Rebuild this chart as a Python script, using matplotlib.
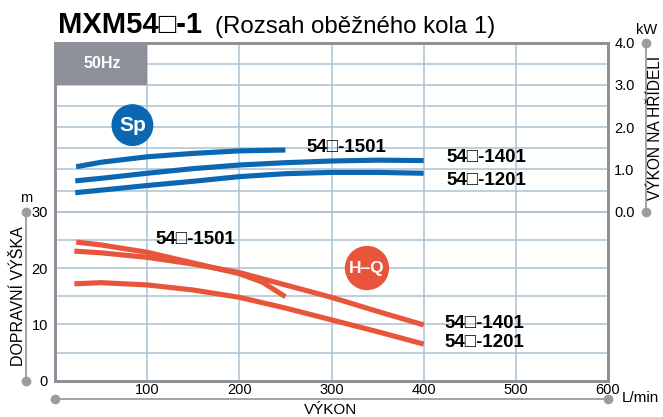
import matplotlib
matplotlib.use('Agg')
import matplotlib.pyplot as plt
import matplotlib.transforms as mtransforms
from matplotlib.patches import Rectangle

plt.rcParams['font.family'] = ['Liberation Sans', 'DejaVu Sans']

# ---- data ----
# H-Q curves (left axis, m)
q_hq_1501 = [23, 50, 100, 150, 200, 225, 250]
h_1501 = [24.6, 24.1, 22.8, 20.9, 19.0, 17.5, 14.9]
q_hq_1401 = [21, 50, 100, 150, 200, 250, 300, 350, 400]
h_1401 = [23.0, 22.7, 21.9, 20.7, 19.2, 17.0, 14.8, 12.3, 9.9]
q_hq_1201 = [21, 50, 100, 150, 200, 250, 300, 350, 400]
h_1201 = [17.2, 17.4, 17.0, 16.1, 14.8, 12.9, 10.8, 8.7, 6.5]

# Shaft power curves (right axis, kW)
q_sp_1501 = [23, 50, 100, 150, 200, 250]
p_1501 = [1.065, 1.17, 1.30, 1.38, 1.44, 1.46]
q_sp_1401 = [22, 50, 100, 150, 200, 250, 300, 350, 400]
p_1401 = [0.73, 0.79, 0.91, 1.02, 1.105, 1.16, 1.20, 1.22, 1.21]
q_sp_1201 = [22, 50, 100, 150, 200, 250, 300, 350, 400]
p_1201 = [0.45, 0.51, 0.62, 0.72, 0.83, 0.90, 0.93, 0.93, 0.91]

x_ticks = [100, 200, 300, 400, 500, 600]
h_ticks = [0, 10, 20, 30]
h_minor = [5, 15, 25]
p_ticks = [0.0, 1.0, 2.0, 3.0, 4.0]
p_minor = [0.5, 1.5, 2.5, 3.5]
p_tick_labels = ['0.0', '1.0', '2.0', '3.0', '4.0']

RED = '#e8553a'
BLUE = '#0b67b2'
GRID = '#a9c2d2'
SPINE = '#8e9197'
BOX = '#8e9099'
DECO = '#9a9ca2'
W, H = 663, 417

fig = plt.figure(figsize=(W / 100, H / 100), dpi=100)
ax = fig.add_axes([55 / W, (H - 380.7) / H, (608 - 55) / W, (380.7 - 42.7) / H])
ax.set_xlim(0, 600)
ax.set_ylim(0, 60)
ax2 = ax.twinx()
ax2.set_ylim(-4, 4)

ax.set_xticks(x_ticks)
ax.set_xticklabels([str(v) for v in x_ticks])
ax.set_yticks(h_ticks)
ax.set_yticks(h_minor, minor=True)
ax.set_yticklabels([str(v) for v in h_ticks])
ax.grid(which='both', color=GRID, lw=1.1)
ax.tick_params(which='both', length=0)
ax.tick_params(axis='y', pad=5, labelsize=10.5)
ax.tick_params(axis='x', pad=1.5, labelsize=10.5)

ax2.set_yticks(p_ticks)
ax2.set_yticklabels(p_tick_labels)
ax2.set_yticks(p_minor, minor=True)
ax2.grid(which='both', axis='y', color=GRID, lw=1.1)
ax2.tick_params(which='both', length=0, pad=4.5, labelsize=10.5)

for a in (ax, ax2):
    for s in a.spines.values():
        s.set_color(SPINE)
        s.set_linewidth(2)

# 50Hz box
ax2.add_patch(Rectangle((0, 3.0), 100, 1.0, facecolor=BOX, edgecolor='none', zorder=2))
ax2.text(51, 3.5, '50Hz', color='white', fontweight='bold', fontsize=11.5,
         ha='center', va='center', zorder=3)

# curves
lw = 3.7
ax.plot(q_hq_1501, h_1501, color=RED, lw=lw, solid_capstyle='butt', zorder=3)
ax.plot(q_hq_1401, h_1401, color=RED, lw=lw, solid_capstyle='butt', zorder=3)
ax.plot(q_hq_1201, h_1201, color=RED, lw=lw, solid_capstyle='butt', zorder=3)
ax2.plot(q_sp_1501, p_1501, color=BLUE, lw=lw, solid_capstyle='butt', zorder=3)
ax2.plot(q_sp_1401, p_1401, color=BLUE, lw=lw, solid_capstyle='butt', zorder=3)
ax2.plot(q_sp_1201, p_1201, color=BLUE, lw=lw, solid_capstyle='butt', zorder=3)

# badges
ax2.text(84, 2.05, 'Sp', color='white', fontweight='bold', fontsize=15,
         ha='center', va='center', zorder=4,
         bbox=dict(boxstyle='circle,pad=0.36', fc=BLUE, ec='none'))
ax.text(338.5, 20.0, 'H\u2013Q', color='white', fontweight='bold', fontsize=12.5,
        ha='center', va='center', zorder=4,
        bbox=dict(boxstyle='circle,pad=0.25', fc=RED, ec='none'))

# curve labels
lab = dict(fontweight='bold', fontsize=13.5, ha='left', va='center', zorder=5)
ax.text(108.5, 25.15, '54\u25a1-1501', **lab)
ax.text(423, 10.07, '54\u25a1-1401', **lab)
ax.text(423, 6.7, '54\u25a1-1201', **lab)
ax2.text(273, 1.515, '54\u25a1-1501', **lab)
ax2.text(425, 1.278, '54\u25a1-1401', **lab)
ax2.text(425, 0.734, '54\u25a1-1201', **lab)

# title
fig.text(58 / W, 1 - 32.7 / H, 'MXM54\u25a1-1', fontweight='bold', fontsize=21, va='baseline')
fig.text(215 / W, 1 - 32.7 / H, '(Rozsah oběžného kola 1)', fontsize=17.3, va='baseline')

# decorative axis lines
t_left = mtransforms.blended_transform_factory(fig.transFigure, ax.transData)
ax.plot([25.7 / W, 25.7 / W], [h_ticks[0], h_ticks[-1]], transform=t_left, color=DECO,
        lw=1.3, marker='o', ms=6, clip_on=False)
t_bot = mtransforms.blended_transform_factory(ax.transData, fig.transFigure)
ax.plot([0, x_ticks[-1]], [1 - 399.3 / H, 1 - 399.3 / H], transform=t_bot, color=DECO,
        lw=1.3, marker='o', ms=6, clip_on=False)
t_right = mtransforms.blended_transform_factory(fig.transFigure, ax2.transData)
ax2.plot([646 / W, 646 / W], [p_ticks[0], p_ticks[-1]], transform=t_right, color=DECO,
         lw=1.3, marker='o', ms=6, clip_on=False)

fig.text(26 / W, 1 - 198 / H, 'm', ha='center', va='center', fontsize=10.5)
fig.text(18.5 / W, 1 - 296.5 / H, 'DOPRAVNÍ VÝŠKA', rotation=90, ha='center', va='center', fontsize=11.5)
fig.text(622 / W, 1 - 398 / H, 'L/min', ha='left', va='center', fontsize=11)
fig.text(331 / W, 1 - 410 / H, 'VÝKON', ha='center', va='center', fontsize=11)
fig.text(647 / W, 1 - 30 / H, 'kW', ha='center', va='center', fontsize=10.5)
fig.text(655.5 / W, 1 - 127.5 / H, 'VÝKON NA HŘÍDELI', rotation=90, ha='center', va='center', fontsize=11.2)

fig.savefig('out.png', dpi=100)
